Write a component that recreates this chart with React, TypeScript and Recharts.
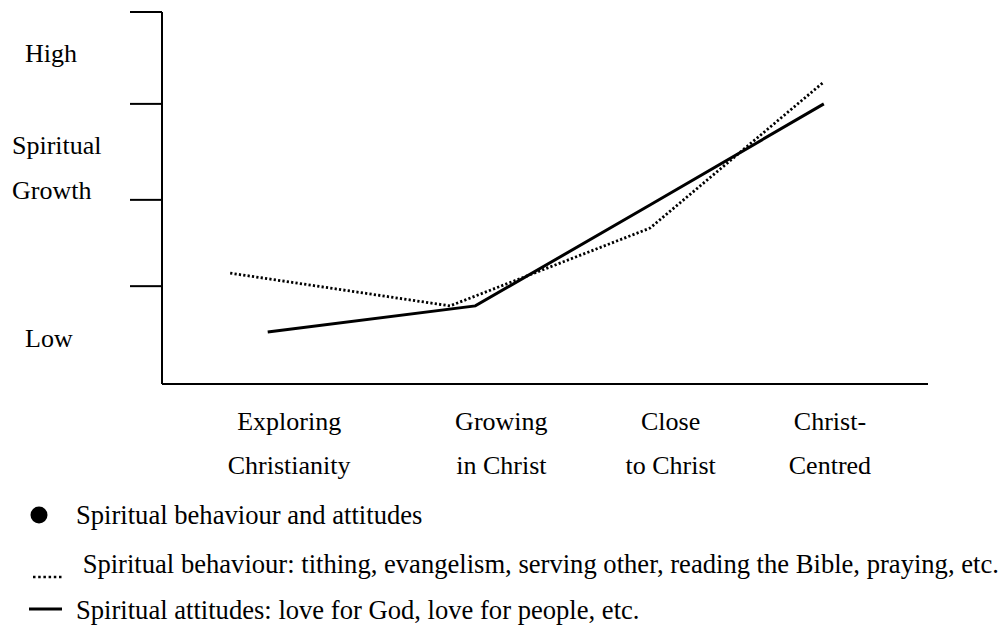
import React from "react";
import { LineChart, Line, XAxis, YAxis } from "recharts";

// stage categories along the bottom (position on a 0-100 scale)
const categories = [
  "Exploring\nChristianity",
  "Growing\nin Christ",
  "Close\nto Christ",
  "Christ-\nCentred",
];
const categoryPos = [16.6, 44.3, 66.4, 87.2];

// dotted series: spiritual behaviour
const behaviourX = [8.9, 37.6, 63.7, 86.4];
const behaviourY = [29.8, 21.0, 41.9, 81.2];

// solid series: spiritual attitudes
const attitudeX = [13.8, 40.9, 63.7, 86.4];
const attitudeY = [14.0, 21.0, 48.1, 75.3];

// y axis marks and labels
const yMarks = [26.3, 49.5, 75.3, 100];
const yLabels = ["\u00a0\u00a0High", "Spiritual", "Growth", "\u00a0\u00a0Low"];
const yLabelPos = [86.6, 61.8, 49.7, 9.9];

const legendLabels = [
  "Spiritual behaviour and attitudes",
  "\u00a0Spiritual behaviour: tithing, evangelism, serving other, reading the Bible, praying, etc.",
  "Spiritual attitudes: love for God, love for people, etc.",
];

const behaviourData = behaviourX.map((x, i) => ({ x, y: behaviourY[i] }));
const attitudeData = attitudeX.map((x, i) => ({ x, y: attitudeY[i] }));

const FONT = "'Liberation Serif', 'Times New Roman', serif";

const XTick = (props: any) => {
  const { x, y, payload } = props;
  const i = categoryPos.indexOf(payload.value);
  const [l1, l2] = (categories[i] || "").split("\n");
  return (
    <g>
      <text x={x} y={y + 46} textAnchor="middle" fontFamily={FONT} fontSize={26} fill="#000">
        {l1}
      </text>
      <text x={x} y={y + 90} textAnchor="middle" fontFamily={FONT} fontSize={26} fill="#000">
        {l2}
      </text>
    </g>
  );
};

const YTick = (props: any) => {
  const { y, payload } = props;
  const i = yLabelPos.indexOf(payload.value);
  if (i >= 0) {
    return (
      <text x={12} y={y} textAnchor="start" fontFamily={FONT} fontSize={26} fill="#000">
        {yLabels[i]}
      </text>
    );
  }
  return <line x1={130} x2={162} y1={y} y2={y} stroke="#000" strokeWidth={2} />;
};

// legend drawn below the chart
const LegendBlock = () => (
  <svg
    width={1004}
    height={132}
    style={{ position: "absolute", left: 0, top: 496, display: "block" }}
  >
    <circle cx={39} cy={19} r={8.5} fill="#000" />
    <line x1={33} x2={64} y1={81} y2={81} stroke="#000" strokeWidth={2.5} strokeDasharray="2.5 2.7" />
    <line x1={29} x2={62} y1={113} y2={113} stroke="#000" strokeWidth={3} />
    {legendLabels.map((t, i) => (
      <text
        key={i}
        x={76}
        y={[28, 77, 123][i]}
        fontFamily={FONT}
        fontSize={26.6}
        fill="#000"
      >
        {t}
      </text>
    ))}
  </svg>
);

export default function App() {
  return (
    <div
      style={{
        position: "absolute",
        left: 0,
        top: 0,
        width: 1004,
        height: 628,
        background: "#fff",
      }}
    >
      <LineChart
        width={1004}
        height={628}
        margin={{ top: 12, right: 76, left: 0, bottom: 214 }}
      >
        <XAxis
          type="number"
          dataKey="x"
          domain={[0, 100]}
          ticks={categoryPos}
          interval={0}
          height={30}
          tickSize={0}
          tickMargin={0}
          tickLine={false}
          axisLine={{ stroke: "#000", strokeWidth: 2 }}
          tick={<XTick />}
        />
        <YAxis
          type="number"
          dataKey="y"
          domain={[0, 100]}
          ticks={[...yMarks, ...yLabelPos]}
          interval={0}
          width={162}
          tickSize={0}
          tickMargin={0}
          tickLine={false}
          axisLine={{ stroke: "#000", strokeWidth: 2 }}
          tick={<YTick />}
        />
        <Line
          data={behaviourData}
          dataKey="y"
          type="linear"
          stroke="#000"
          strokeWidth={2.8}
          strokeDasharray="2.2 2.2"
          dot={false}
          activeDot={false}
          isAnimationActive={false}
        />
        <Line
          data={attitudeData}
          dataKey="y"
          type="linear"
          stroke="#000"
          strokeWidth={3}
          dot={false}
          activeDot={false}
          isAnimationActive={false}
        />
      </LineChart>
      <LegendBlock />
    </div>
  );
}
